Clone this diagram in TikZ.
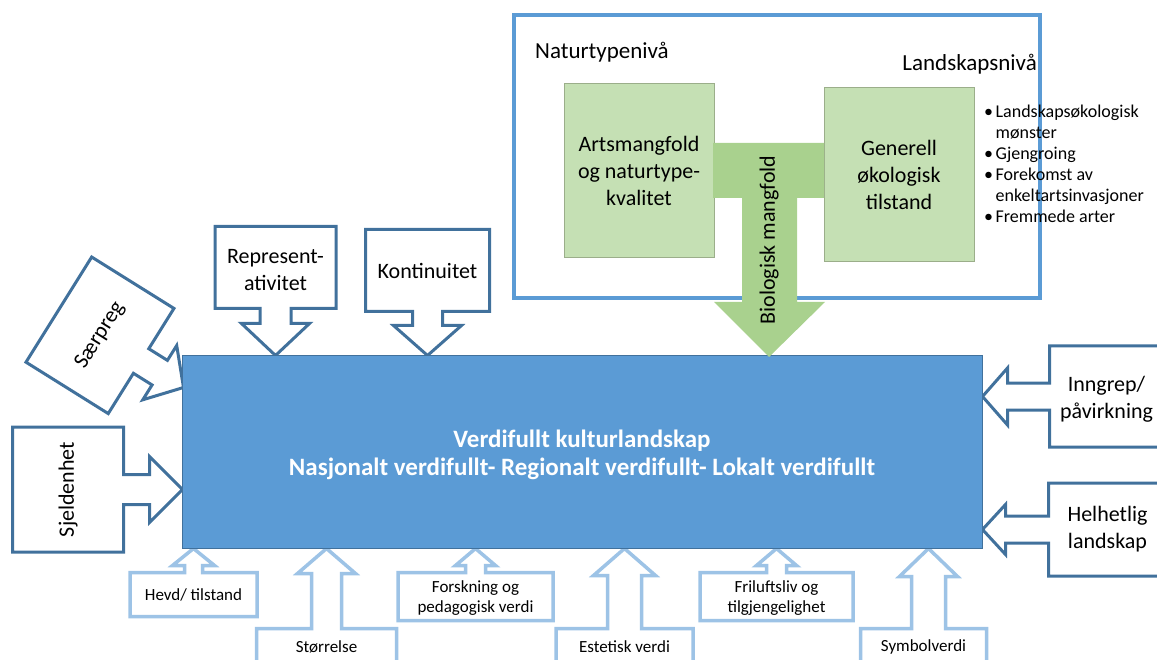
\documentclass[tikz,border=0pt]{standalone}
\usepackage{fontspec}
\setmainfont{Carlito}
\usetikzlibrary{positioning,calc,backgrounds}

\definecolor{mainblue}{HTML}{5B9BD5}
\definecolor{edgeblue}{HTML}{41719C}
\definecolor{paleblue}{HTML}{9DC3E6}
\definecolor{lightgreen}{HTML}{C5E0B4}
\definecolor{midgreen}{HTML}{A9D18E}
\definecolor{greenedge}{HTML}{9BAE8A}

\tikzset{
  cb len/.store in=\cbLen, cb wid/.store in=\cbWid,
  cb stem/.store in=\cbStem, cb head/.store in=\cbHead,
  cb stemw/.store in=\cbStemW, cb headw/.store in=\cbHeadW,
  cb off/.store in=\cbOff,
  cb len=100, cb wid=100, cb stem=20, cb head=30, cb stemw=15, cb headw=32, cb off=0,
  % box with arrow, tip at the origin, pointing along +x
  callout/.pic={
    \path[pic actions] (0,0) -- ({-\cbHead},{-\cbHeadW}) -- ({-\cbHead},{-\cbStemW})
      -- ({-\cbHead-\cbStem},{-\cbStemW}) -- ({-\cbHead-\cbStem},{\cbOff-\cbWid/2})
      -- ({-\cbHead-\cbStem-\cbLen},{\cbOff-\cbWid/2}) -- ({-\cbHead-\cbStem-\cbLen},{\cbOff+\cbWid/2})
      -- ({-\cbHead-\cbStem},{\cbOff+\cbWid/2}) -- ({-\cbHead-\cbStem},{\cbStemW})
      -- ({-\cbHead},{\cbStemW}) -- ({-\cbHead},{\cbHeadW}) -- cycle;
    \coordinate (-c) at ({-\cbHead-\cbStem-\cbLen/2},{\cbOff});
  }
}

\begin{document}
\begin{tikzpicture}[x=1pt,y=-1pt,
  darkcall/.style={draw=edgeblue,fill=white,line width=3pt},
  palecall/.style={draw=paleblue,fill=white,line width=3.5pt},
  bigtxt/.style={font=\fontsize{22}{27}\selectfont,align=center,inner sep=0pt},
  smalltxt/.style={font=\fontsize{17}{20}\selectfont,align=center,inner sep=0pt},
  greenbox/.style={draw=greenedge,fill=lightgreen,line width=1pt,minimum width=150,minimum height=174,
    font=\fontsize{22}{27}\selectfont,align=center}]
\useasboundingbox (0,0) rectangle (1157,660);
\clip (0,0) rectangle (1157,660);

% main box
\node[draw=edgeblue,fill=mainblue,line width=1pt,minimum width=800,minimum height=192] (main) at (582,452) {};
\node[text=white,font=\bfseries\fontsize{25}{28.5}\selectfont,align=center,inner sep=0pt] (maintxt)
  at ($(main)+(0,3)$)
  {Verdifullt kulturlandskap\\Nasjonalt verdifullt- Regionalt verdifullt- Lokalt verdifullt};

% biological diversity frame
\draw[draw=mainblue,line width=4.5pt] (514,15) rectangle (1040,298);
\node[bigtxt,anchor=west,font=\fontsize{23}{27}\selectfont] (naturniva) at (535,52) {Naturtypenivå};
\node[bigtxt,anchor=east,font=\fontsize{23}{27}\selectfont] (landniva) at (1037,64) {Landskapsnivå};
\node[greenbox] (arts) at (639,171) {Artsmangfold\\og naturtype-\\kvalitet};
\node[greenbox] (generell) at (899,175) {Generell\\økologisk\\tilstand};
\fill[midgreen] (713,143) -- (824,143) -- (824,198) -- (797,198) -- (797,302) -- (825,302)
  -- (769,357) -- (714,302) -- (742,302) -- (742,198) -- (713,198) -- cycle;
\node[bigtxt,rotate=90] (biomangfold) at (769,240) {Biologisk mangfold};
\node[anchor=north west,inner sep=0pt,font=\fontsize{18}{21}\selectfont] (landskapliste) at (984,103)
  {\begin{tabular}{@{}l@{\hspace{2.5pt}}l@{}}
   •&Landskapsøkologisk\\ &mønster\\ •&Gjengroing\\ •&Forekomst av\\ &enkeltartsinvasjoner\\ •&Fremmede arter
   \end{tabular}};

\begin{scope}[on background layer]
  % left and top
  \pic[darkcall,cb len=111,cb wid=125,cb stem=26,cb head=33,cb stemw=15,cb headw=33]
    (cSjeld) at ($(main.north west)+(1,134)$) {callout};
  \pic[darkcall,rotate=-32,cb len=97,cb wid=124,cb stem=22,cb head=28,cb stemw=14.5,cb headw=32]
    (cSaer) at ($(main.north west)+(2,32)$) {callout};
  \pic[darkcall,rotate=-90,cb len=82,cb wid=121,cb stem=15,cb head=32,cb stemw=15.5,cb headw=34]
    (cRepr) at ($(main.north west)+(94,0)$) {callout};
  \pic[darkcall,rotate=-90,cb len=82,cb wid=124,cb stem=14,cb head=30,cb stemw=15,cb headw=34]
    (cKont) at ($(main.north west)+(246,0)$) {callout};
  % right
  \pic[darkcall,rotate=180,cb len=114,cb wid=101,cb stem=42,cb head=25,cb stemw=13.5,cb headw=28.5]
    (cInngr) at ($(main.north east)+(0,41)$) {callout};
  \pic[darkcall,rotate=180,cb len=118,cb wid=93,cb stem=43,cb head=23,cb stemw=13.5,cb headw=25]
    (cHelh) at ($(main.north east)+(0,174)$) {callout};
  % bottom
  \pic[palecall,rotate=90,cb len=44,cb wid=127,cb stem=7,cb head=17,cb stemw=9,cb headw=21]
    (cHevd) at ($(main.south west)+(12,0)$) {callout};
  \pic[palecall,rotate=90,cb len=36,cb wid=140,cb stem=55,cb head=25,cb stemw=15,cb headw=29]
    (cStorr) at ($(main.south west)+(145,0)$) {callout};
  \pic[palecall,rotate=90,cb len=48,cb wid=155,cb stem=7,cb head=17,cb stemw=10,cb headw=20]
    (cForsk) at ($(main.south west)+(294,0)$) {callout};
  \pic[palecall,rotate=90,cb len=36,cb wid=137,cb stem=53,cb head=27,cb stemw=17,cb headw=31]
    (cEstet) at ($(main.south west)+(443,0)$) {callout};
  \pic[palecall,rotate=90,cb len=48,cb wid=153,cb stem=7,cb head=17,cb stemw=10,cb headw=20]
    (cFril) at ($(main.south west)+(595,0)$) {callout};
  \pic[palecall,rotate=90,cb len=36,cb wid=126,cb stem=52,cb head=28,cb stemw=17,cb headw=29,cb off=-5]
    (cSymb) at ($(main.south west)+(747,0)$) {callout};
\end{scope}

\node[bigtxt,rotate=90] (sjeldenhet) at (cSjeld-c) {Sjeldenhet};
\node[bigtxt,rotate=58] (saerpreg) at (cSaer-c) {Særpreg};
\node[bigtxt] (represent) at ($(cRepr-c)+(0,3)$) {Represent-\\ativitet};
\node[bigtxt] (kontinuitet) at (cKont-c) {Kontinuitet};
\node[bigtxt] (inngrep) at ($(cInngr-c)+(0,3)$) {Inngrep/\\påvirkning};
\node[bigtxt] (helhet) at (cHelh-c) {Helhetlig\\landskap};
\node[smalltxt] (hevd) at (cHevd-c) {Hevd/ tilstand};
\node[smalltxt] (storrelse) at (cStorr-c) {Størrelse};
\node[smalltxt] (forskning) at ($(cForsk-c)+(0,2)$) {Forskning og\\pedagogisk verdi};
\node[smalltxt] (estetisk) at (cEstet-c) {Estetisk verdi};
\node[smalltxt] (friluft) at ($(cFril-c)+(0,2)$) {Friluftsliv og\\tilgjengelighet};
\node[smalltxt] (symbol) at (cSymb-c) {Symbolverdi};
\end{tikzpicture}
\end{document}
